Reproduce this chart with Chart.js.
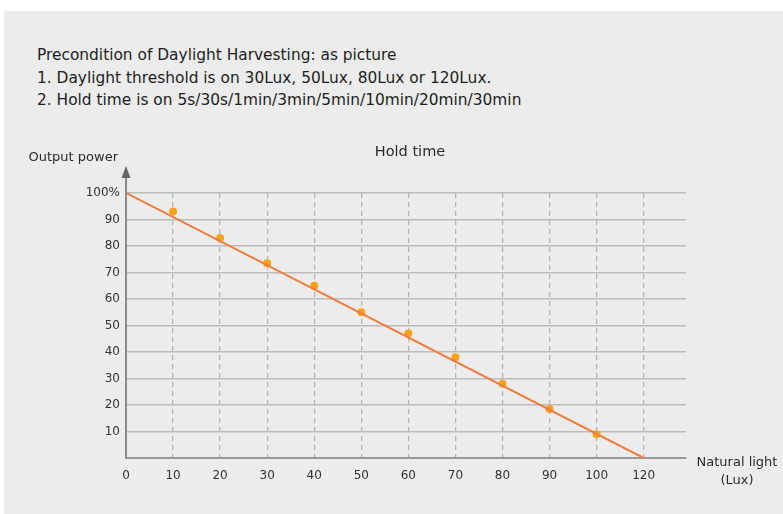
<!DOCTYPE html>
<html>
<head>
<meta charset="utf-8">
<script src="https://cdn.jsdelivr.net/npm/chart.js@4"></script>
<style>
  html, body { margin: 0; padding: 0; background: #fff; }
  #wrap { position: relative; width: 783px; height: 514px; overflow: hidden; }
  #panel { position: absolute; left: 4px; top: 11px; right: 0; bottom: 0; background: #ececec; }
  #notes { position: absolute; left: 37px; top: 44px; font-family: "DejaVu Sans", sans-serif;
           font-size: 15.4px; line-height: 22.5px; color: #1e1e1e; }
  canvas { position: absolute; left: 0; top: 0; }
</style>
</head>
<body>
<div id="wrap">
  <div id="panel"></div>
  <div id="notes">
    <div>Precondition of Daylight Harvesting: as picture</div>
    <div>1. Daylight threshold is on 30Lux, 50Lux, 80Lux or 120Lux.</div>
    <div>2. Hold time is on 5s/30s/1min/3min/5min/10min/20min/30min</div>
  </div>
  <canvas id="chart" width="783" height="514"></canvas>
</div>
<script>
// --- Data ---
const xLabels = ['0', '10', '20', '30', '40', '50', '60', '70', '80', '90', '100', '120'];
const yTicks = [10, 20, 30, 40, 50, 60, 70, 80, 90, 100];
const lineStart = ['0', 100];   // lux label, output %
const lineEnd = ['120', 0];
const pointValues = [null, 93, 83, 73.5, 65, 55, 47, 38, 28, 18.5, 9, null];

const chartTitle = 'Hold time';
const yTitle = 'Output power';
const xTitle = ['Natural light', '(Lux)'];

const FONT = '"DejaVu Sans", sans-serif';

// y axis arrow + labels around the plot
const decorations = {
  id: 'decorations',
  afterDraw(chart) {
    const ctx = chart.ctx;
    const area = chart.chartArea;
    const ax = chart.scales.x.getPixelForValue(0);
    ctx.save();
    // axis extension + arrow head
    ctx.strokeStyle = '#8a8a8a';
    ctx.lineWidth = 2;
    ctx.beginPath();
    ctx.moveTo(ax, area.top);
    ctx.lineTo(ax, area.top - 20);
    ctx.stroke();
    ctx.fillStyle = '#666';
    ctx.beginPath();
    ctx.moveTo(ax, area.top - 27);
    ctx.lineTo(ax - 4.5, area.top - 15);
    ctx.lineTo(ax + 4.5, area.top - 15);
    ctx.closePath();
    ctx.fill();

    ctx.fillStyle = '#2a2a2a';
    ctx.textBaseline = 'middle';
    ctx.font = '14.5px ' + FONT;
    ctx.textAlign = 'center';
    ctx.fillText(chartTitle, 410, 152);

    ctx.font = '13px ' + FONT;
    ctx.textAlign = 'right';
    ctx.fillText(yTitle, ax - 8, 158);

    ctx.textAlign = 'center';
    ctx.fillText(xTitle[0], 737, 463);
    ctx.fillText(xTitle[1], 737, 481);
    ctx.restore();
  }
};

const ctx = document.getElementById('chart').getContext('2d');
new Chart(ctx, {
  type: 'line',
  data: {
    datasets: [
      {
        data: [
          { x: xLabels.indexOf(lineStart[0]), y: lineStart[1] },
          { x: xLabels.indexOf(lineEnd[0]), y: lineEnd[1] }
        ],
        borderColor: '#f27a3a',
        borderWidth: 2,
        pointRadius: 0,
        fill: false
      },
      {
        data: pointValues.map((v, i) => ({ x: i, y: v })),
        showLine: false,
        pointRadius: 4,
        pointBackgroundColor: '#f8a11c',
        pointBorderWidth: 0
      }
    ]
  },
  options: {
    responsive: false,
    animation: false,
    events: [],
    layout: { padding: { left: 0, top: 193, right: 97, bottom: 0 } },
    plugins: { legend: { display: false }, title: { display: false }, tooltip: { enabled: false } },
    scales: {
      x: {
        type: 'linear',
        min: 0,
        max: 11.9,
        afterFit(scale) { scale.height = 56; },
        border: { color: '#999', width: 2, dash: [5, 4] },
        grid: {
          drawTicks: false,
          color: c => (c.tick && c.tick.value > 0 ? '#b4b4b4' : 'rgba(0,0,0,0)'),
          lineWidth: 1.3
        },
        ticks: {
          stepSize: 1,
          includeBounds: false,
          padding: 11,
          color: '#333',
          font: { family: FONT, size: 12 },
          callback: v => xLabels[v] ?? ''
        }
      },
      y: {
        min: 0,
        max: 100,
        afterFit(scale) { scale.width = 126; },
        border: { color: '#8a8a8a', width: 2 },
        grid: { drawTicks: false, color: '#bcbcbc', lineWidth: 1.5 },
        afterBuildTicks(scale) { scale.ticks = [0].concat(yTicks).map(v => ({ value: v })); },
        ticks: {
          padding: 6,
          color: '#333',
          font: { family: FONT, size: 12 },
          callback: v => (v === 0 ? '' : v === 100 ? '100%' : v)
        }
      }
    }
  },
  plugins: [decorations]
});
</script>
</body>
</html>
